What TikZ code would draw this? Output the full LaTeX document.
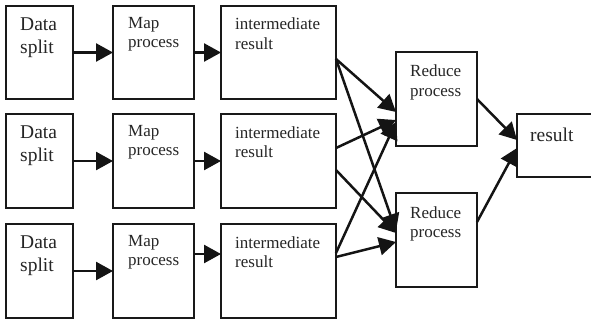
\documentclass[tikz,border=0pt]{standalone}
\usepackage{fontspec}
\setmainfont{Liberation Serif}
\usetikzlibrary{arrows.meta,calc}
\begin{document}
\begin{tikzpicture}[x=1pt,y=-1pt,
 box/.style={draw=black!90, line width=1.9pt, inner sep=0pt, outer sep=0pt, fill=white},
 lbl/.style={anchor=north west, inner sep=0pt, align=left, text=black!85, font=\fontsize{17}{19.3}\selectfont},
 biglbl/.style={lbl, font=\fontsize{19.5}{22.5}\selectfont},
 flow/.style={line width=2.5pt, draw=black!92, -{Triangle[length=17pt,width=18pt]}}
]
\useasboundingbox (0,0) rectangle (591,322);
% boxes
\node[box, minimum width=67pt, minimum height=93pt] (d1) at (39.5,52.5) {};
\node[box, minimum width=67pt, minimum height=94pt] (d2) at (39.5,161) {};
\node[box, minimum width=67pt, minimum height=94pt] (d3) at (39.5,271) {};
\node[box, minimum width=81pt, minimum height=93pt] (m1) at (153.5,52.5) {};
\node[box, minimum width=81pt, minimum height=94pt] (m2) at (153.5,161) {};
\node[box, minimum width=81pt, minimum height=94pt] (m3) at (153.5,271) {};
\node[box, minimum width=115pt, minimum height=93pt] (i1) at (278.5,52.5) {};
\node[box, minimum width=115pt, minimum height=94pt] (i2) at (278.5,161) {};
\node[box, minimum width=115pt, minimum height=94pt] (i3) at (278.5,271) {};
\node[box, minimum width=81pt, minimum height=94pt] (r1) at (436.5,99) {};
\node[box, minimum width=81pt, minimum height=94pt] (r2) at (436.5,240) {};
\node[box, minimum width=83pt, minimum height=63pt] (res) at (558.5,145.5) {};
% labels
\node[biglbl] (td1) at (20,18) {Data\\split};
\node[biglbl] (td2) at (20,126) {Data\\split};
\node[biglbl] (td3) at (20,236) {Data\\split};
\node[lbl] (tm1) at (128,17) {Map\\process};
\node[lbl] (tm2) at (128,125) {Map\\process};
\node[lbl] (tm3) at (128,235) {Map\\process};
\node[lbl] (ti1) at (235,18) {intermediate\\result};
\node[lbl] (ti2) at (235,126) {intermediate\\result};
\node[lbl] (ti3) at (235,236) {intermediate\\result};
\node[lbl] (tr1) at (410,65) {Reduce\\process};
\node[lbl] (tr2) at (410,206) {Reduce\\process};
\node[biglbl] (tres) at (530,128) {result};
% row arrows
\draw[flow] (d1.east) -- (m1.west);
\draw[flow] (d2.east) -- (m2.west);
\draw[flow] (d3.east) -- (m3.west);
\draw[flow] (m1.east) -- (i1.west);
\draw[flow] (m2.east) -- (i2.west);
\draw[flow] ([yshift=17pt]m3.east) -- ([yshift=17pt]i3.west);
% intermediate -> reduce
\draw[flow] ($(i1.north east)+(0,53)$) -- ($(r1.north west)+(0,60)$);
\draw[flow] ($(i1.north east)+(0,53)$) -- ($(r2.north west)+(0,38)$);
\draw[flow] ($(i2.north east)+(0,34)$) -- ($(r1.north west)+(0,68)$);
\draw[flow] ($(i2.north east)+(0,56)$) -- ($(r2.north west)+(0,40)$);
\draw[flow] ($(i3.north east)+(0,29)$) -- ($(r1.north west)+(0,70)$);
\draw[flow] ($(i3.north east)+(0,33)$) -- ($(r2.north west)+(0,49)$);
% reduce -> result
\draw[flow] ($(r1.north east)+(0,47)$) -- ($(res.north west)+(0,26)$);
\draw[flow] ($(r2.north east)+(0,29)$) -- ($(res.north west)+(0,34)$);
\end{tikzpicture}
\end{document}
